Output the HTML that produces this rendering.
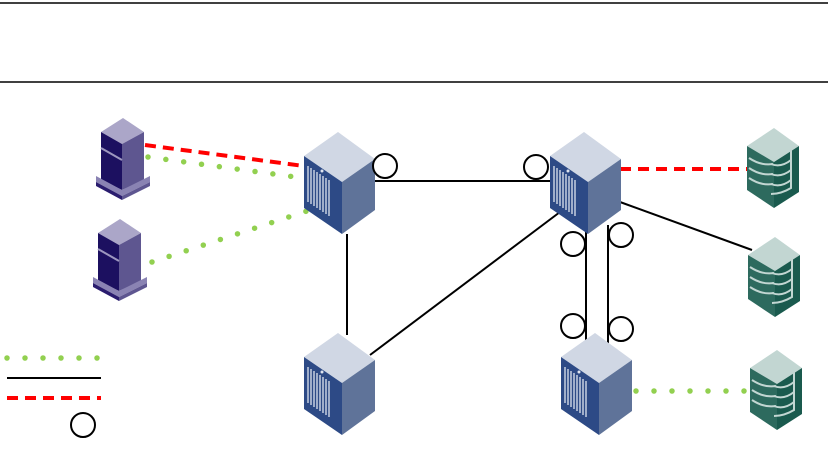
<!DOCTYPE html>
<html><head><style>html,body{margin:0;padding:0;background:#fff}svg{display:block}</style></head>
<body>
<svg width="828" height="464" viewBox="0 0 828 464" xmlns="http://www.w3.org/2000/svg">
<defs>
<g id="sw">
<polygon points="34,0 0,24 38,50 71,27" fill="#d0d7e4"/>
<polygon points="0,24 38,50 38,102 0,76" fill="#2d4a86"/>
<polygon points="38,50 71,27 71,78 38,102" fill="#5f7399"/>
<g stroke="#dfe4ef" stroke-width="1.3">
<line x1="4" y1="34" x2="4" y2="70"/><line x1="7" y1="36" x2="7" y2="72"/><line x1="10" y1="38" x2="10" y2="74"/><line x1="13" y1="40" x2="13" y2="76"/><line x1="16" y1="42" x2="16" y2="78"/><line x1="19" y1="44" x2="19" y2="80"/><line x1="22" y1="46" x2="22" y2="82"/><line x1="25" y1="48" x2="25" y2="84"/>
</g>
<circle cx="18" cy="39" r="1.5" fill="#dfe4ef"/>
</g>
<g id="sv">
<polygon points="5,14 27,0 48,14 26,26" fill="#aba6c8"/>
<polygon points="5,14 26,26 26,72 5,62" fill="#1c1060"/>
<polygon points="26,26 48,14 48,62 26,72" fill="#5e5690"/>
<line x1="5" y1="30" x2="26" y2="42" stroke="#9d97bf" stroke-width="2"/>
<polygon points="0,58 26,72 54,58 54,64 26,78 0,64" fill="#8a83b3"/>
<polygon points="0,64 26,78 26,82 0,68" fill="#2a1c6e"/>
<polygon points="26,78 54,64 54,68 26,82" fill="#5e5690"/>
</g>
<g id="st">
<polygon points="0,18 27,0 52,18 27,34" fill="#c2d6d2"/>
<polygon points="0,18 27,34 27,80 0,62" fill="#2d6a5e"/>
<polygon points="27,34 52,18 52,64 27,80" fill="#1a5a4e"/>
<g stroke="#c2d6d2" stroke-width="2" fill="none">
<path d="M2,30 Q14,38 26,36"/><path d="M2,40 Q14,48 26,46"/><path d="M2,50 Q14,58 26,56"/>
<path d="M20,26 Q34,22 44,20 L44,60 Q34,66 24,66"/>
<path d="M24,36 Q34,40 44,32"/><path d="M24,46 Q34,50 44,42"/><path d="M24,56 Q34,60 44,52"/>
</g>
</g>
</defs>
<line x1="0" y1="3" x2="828" y2="3" stroke="#000" stroke-width="1.5"/>
<line x1="0" y1="82" x2="828" y2="82" stroke="#000" stroke-width="1.5"/>

<g stroke="#000" stroke-width="2" fill="none">
<line x1="375" y1="181" x2="550" y2="181"/>
<line x1="347" y1="234" x2="347" y2="335"/>
<line x1="370" y1="355" x2="560" y2="212"/>
<line x1="586" y1="225" x2="586" y2="345"/>
<line x1="608" y1="225" x2="608" y2="345"/>
<line x1="620" y1="202" x2="752" y2="250"/>
<line x1="7" y1="378" x2="101" y2="378"/>
</g>
<g stroke="#ff0000" stroke-width="4" stroke-dasharray="11,7" fill="none">
<line x1="145" y1="145" x2="304" y2="166"/>
<line x1="620" y1="169" x2="747" y2="169"/>
<line x1="7" y1="398" x2="101" y2="398"/>
</g>
<g stroke="#92d050" stroke-width="5.5" stroke-dasharray="0,18" stroke-linecap="round" fill="none">
<line x1="148" y1="157" x2="303" y2="178"/>
<line x1="152" y1="262" x2="310" y2="210"/>
<line x1="636" y1="391" x2="752" y2="391"/>
<line x1="7" y1="358" x2="100" y2="358"/>
</g>

<use href="#sv" x="96" y="118"/>
<use href="#sv" x="93" y="219"/>
<use href="#sw" x="304" y="132"/>
<use href="#sw" x="550" y="132"/>
<use href="#sw" x="304" y="333"/>
<use href="#sw" x="561" y="333"/>
<use href="#st" x="747" y="128"/>
<use href="#st" x="748" y="237"/>
<use href="#st" x="750" y="350"/>

<g stroke="#000" stroke-width="2" fill="#fff">
<circle cx="385" cy="166" r="12"/>
<circle cx="536" cy="167" r="12"/>
<circle cx="573" cy="244" r="12"/>
<circle cx="621" cy="235" r="12"/>
<circle cx="573" cy="326" r="12"/>
<circle cx="621" cy="329" r="12"/>
<circle cx="83" cy="425" r="12"/>
</g>
</svg>
</body></html>
